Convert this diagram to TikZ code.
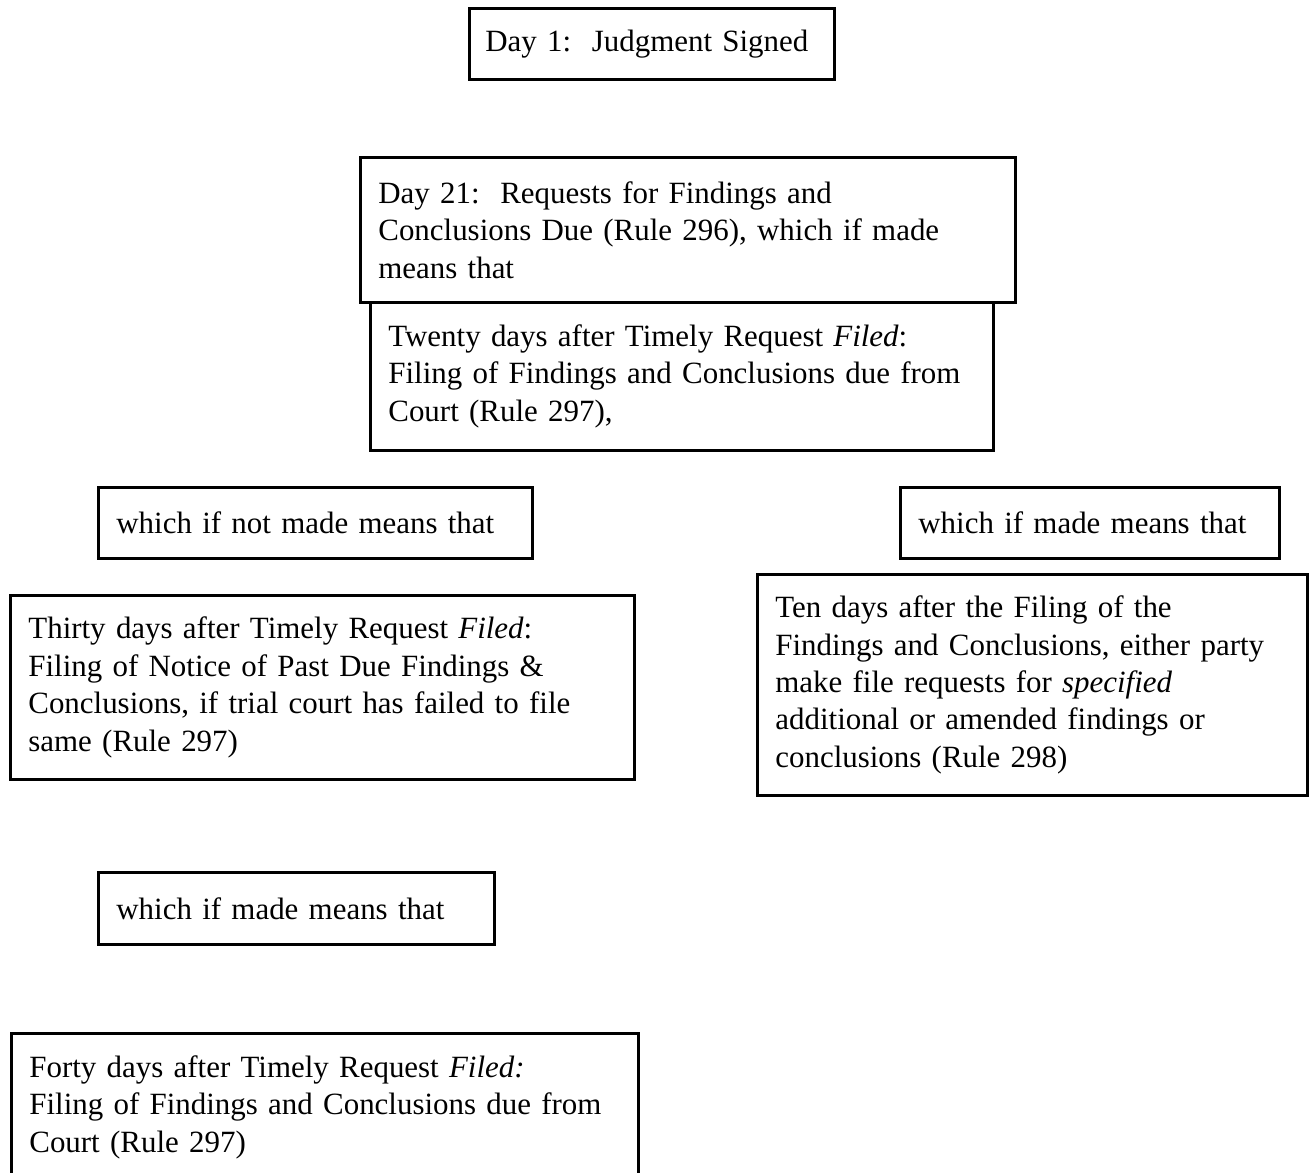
\documentclass[tikz,border=0pt]{standalone}
\usepackage{fontspec}
\setmainfont{Liberation Serif}
\usepackage{tikz}

\begin{document}
\begin{tikzpicture}[x=0.02cm,y=-0.02cm,
  rulebox/.style={draw,line width=1.6pt,anchor=north west,align=left,inner xsep=0.36cm,inner ysep=0pt,
    font=\fontsize{17.6}{21.3}\selectfont}]
  \path[use as bounding box] (0,0) rectangle (1309,1173);
  \clip (0,0) rectangle (1309,1173);
  \node[rulebox,inner xsep=0.32cm,text width=6.66cm,minimum height=1.42cm] (dayone) at (468,7) {Day 1:\ \ Judgment Signed};
  \node[rulebox,text width=12.38cm,minimum height=2.90cm] (daytwentyone) at (359,156)
    {Day 21:\ \ Requests for Findings and\\Conclusions Due (Rule 296), which if made\\means that};
  \node[rulebox,text width=11.74cm,minimum height=2.96cm] (twenty) at (369,301)
    {Twenty days after Timely Request \textit{Filed}:\\Filing of Findings and Conclusions due from\\Court (Rule 297),};
  \node[rulebox,text width=7.96cm,minimum height=1.42cm] (notmade) at (97,486) {which if not made means that};
  \node[rulebox,text width=6.86cm,minimum height=1.42cm] (maderight) at (899,486) {which if made means that};
  \node[rulebox,text width=11.76cm,minimum height=3.68cm] (thirty) at (9,594)
    {Thirty days after Timely Request \textit{Filed}:\\Filing of Notice of Past Due Findings \&\\Conclusions, if trial court has failed to file\\same (Rule 297)};
  \node[rulebox,text width=10.28cm,minimum height=4.42cm] (ten) at (756,573)
    {Ten days after the Filing of the\\Findings and Conclusions, either party\\make file requests for \textit{specified}\\additional or amended findings or\\conclusions (Rule 298)};
  \node[rulebox,text width=7.20cm,minimum height=1.44cm] (madeleft) at (97,871) {which if made means that};
  \node[rulebox,text width=11.82cm,minimum height=2.96cm] (forty) at (10,1032)
    {Forty days after Timely Request \textit{Filed:}\\Filing of Findings and Conclusions due from\\Court (Rule 297)};
\end{tikzpicture}
\end{document}
